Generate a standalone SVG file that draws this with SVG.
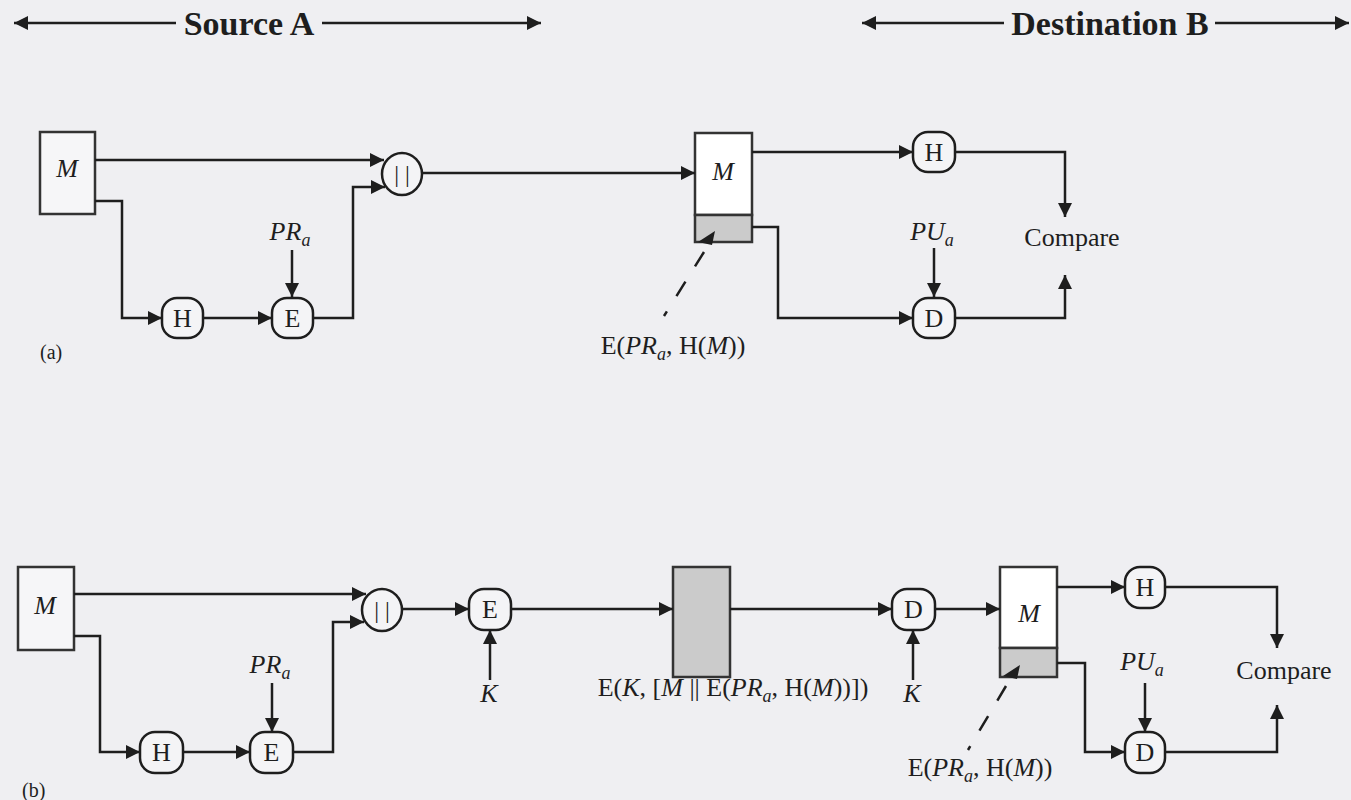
<svg xmlns="http://www.w3.org/2000/svg" width="1351" height="800" viewBox="0 0 1351 800">
<defs>
<marker id="ah" viewBox="0 0 10 10" refX="10" refY="5" markerWidth="20" markerHeight="14" markerUnits="userSpaceOnUse" orient="auto"><path d="M0,0 L10,5 L0,10 z" fill="#1e1e1e"/></marker>
<marker id="ahs" viewBox="0 0 10 10" refX="0" refY="5" markerWidth="20" markerHeight="14" markerUnits="userSpaceOnUse" orient="auto"><path d="M10,0 L0,5 L10,10 z" fill="#1e1e1e"/></marker>
<style>
.ar{fill:none;stroke:#1e1e1e;stroke-width:2.5;marker-end:url(#ah)}
.hd{fill:none;stroke:#1e1e1e;stroke-width:2.5;}
.dash{fill:none;stroke:#1e1e1e;stroke-width:2.5;stroke-dasharray:17 18}
.box{fill:#f6f6f8;stroke:#333;stroke-width:2.5}
.wbox{fill:#ffffff;stroke:#333;stroke-width:2.5}
.gbox{fill:#cbcbcb;stroke:#333;stroke-width:2.5}
.nd{fill:#f4f4f6;stroke:#1e1e1e;stroke-width:2.5}
.t{font-family:"Liberation Serif",serif;font-size:26px;fill:#1e1e1e}
.c{text-anchor:middle}
.i{font-style:italic}
.hdr{font-family:"Liberation Serif",serif;font-size:34px;font-weight:bold;fill:#1e1e1e;text-anchor:middle}
.sub{font-size:18px}
.bar{font-family:"Liberation Serif",serif;font-size:24px;fill:#1e1e1e;text-anchor:middle}
</style>
</defs>
<rect x="0" y="0" width="1351" height="800" fill="#efeff2"/>

<g id="header">
<path class="hd" d="M14,23 H176" marker-start="url(#ahs)"/>
<path class="hd" d="M322,23 H541" marker-end="url(#ah)"/>
<text class="hdr" x="249" y="35">Source A</text>
<path class="hd" d="M862,23 H1004" marker-start="url(#ahs)"/>
<path class="hd" d="M1215,23 H1349" marker-end="url(#ah)"/>
<text class="hdr" x="1110" y="35">Destination B</text>
</g>

<!-- (a) nodes -->
<g id="a-M">
<rect class="box" x="40" y="132" width="55" height="82"/>
<text class="t c i" x="67" y="177">M</text>
</g>
<g id="a-H">
<rect class="nd" x="162" y="298" width="41" height="40" rx="15"/>
<text class="t c" x="182.5" y="327">H</text>
</g>
<g id="a-E">
<rect class="nd" x="272" y="298" width="41" height="40" rx="15"/>
<text class="t c" x="292.5" y="327">E</text>
</g>
<g id="a-PR">
<text class="t c i" x="290" y="240">PR<tspan class="sub" dy="6">a</tspan></text>
</g>
<g id="a-concat">
<ellipse class="nd" cx="402" cy="174" rx="20" ry="21"/>
<text class="bar" x="402" y="182">| |</text>
</g>
<g id="a-label">
<text class="t" x="40" y="359" style="font-size:20px">(a)</text>
</g>
<g id="a-Mrecv">
<rect class="wbox" x="695" y="133" width="57" height="82"/>
<rect class="gbox" x="695" y="215" width="57" height="27"/>
<text class="t c i" x="723" y="180">M</text>
</g>
<g id="a-sig-label">
<text class="t c" x="673" y="354">E(<tspan class="i">PR</tspan><tspan class="sub i" dy="6">a</tspan><tspan dy="-6">, H(</tspan><tspan class="i">M</tspan>))</text>
</g>
<g id="a-H2">
<rect class="nd" x="913" y="132" width="42" height="40" rx="15"/>
<text class="t c" x="934" y="161">H</text>
</g>
<g id="a-PU">
<text class="t c i" x="932" y="240">PU<tspan class="sub" dy="6">a</tspan></text>
</g>
<g id="a-D">
<rect class="nd" x="913" y="298" width="42" height="40" rx="15"/>
<text class="t c" x="934" y="327">D</text>
</g>
<g id="a-compare">
<text class="t c" x="1072" y="246">Compare</text>
</g>

<!-- (b) nodes -->
<g id="b-M">
<rect class="box" x="18" y="567" width="56" height="83"/>
<text class="t c i" x="45" y="614">M</text>
</g>
<g id="b-H">
<rect class="nd" x="140" y="732" width="43" height="41" rx="15"/>
<text class="t c" x="161.5" y="761">H</text>
</g>
<g id="b-E">
<rect class="nd" x="250" y="732" width="43" height="41" rx="15"/>
<text class="t c" x="271.5" y="761">E</text>
</g>
<g id="b-PR">
<text class="t c i" x="270" y="673">PR<tspan class="sub" dy="6">a</tspan></text>
</g>
<g id="b-concat">
<ellipse class="nd" cx="382" cy="610" rx="20" ry="21"/>
<text class="bar" x="382" y="618">| |</text>
</g>
<g id="b-label">
<text class="t" x="22" y="797" style="font-size:20px">(b)</text>
</g>
<g id="b-E2">
<rect class="nd" x="469" y="589" width="42" height="41" rx="15"/>
<text class="t c" x="490" y="618">E</text>
</g>
<g id="b-K1">
<text class="t c i" x="489" y="702">K</text>
</g>
<g id="b-cipher">
<rect class="gbox" x="673" y="567" width="57" height="110"/>
</g>
<g id="b-cipher-label">
<text class="t c" x="733" y="696">E(<tspan class="i">K</tspan>, [<tspan class="i">M</tspan> || E(<tspan class="i">PR</tspan><tspan class="sub i" dy="6">a</tspan><tspan dy="-6">, H(</tspan><tspan class="i">M</tspan>))])</text>
</g>
<g id="b-D1">
<rect class="nd" x="892" y="589" width="43" height="41" rx="15"/>
<text class="t c" x="913.5" y="618">D</text>
</g>
<g id="b-K2">
<text class="t c i" x="912" y="702">K</text>
</g>
<g id="b-Mrecv">
<rect class="wbox" x="1000" y="567" width="57" height="81"/>
<rect class="gbox" x="1000" y="648" width="57" height="29"/>
<text class="t c i" x="1029" y="622">M</text>
</g>
<g id="b-sig-label">
<text class="t c" x="980" y="776">E(<tspan class="i">PR</tspan><tspan class="sub i" dy="6">a</tspan><tspan dy="-6">, H(</tspan><tspan class="i">M</tspan>))</text>
</g>
<g id="b-H2">
<rect class="nd" x="1125" y="567" width="40" height="41" rx="15"/>
<text class="t c" x="1145" y="596">H</text>
</g>
<g id="b-PU">
<text class="t c i" x="1142" y="670">PU<tspan class="sub" dy="6">a</tspan></text>
</g>
<g id="b-D2">
<rect class="nd" x="1125" y="732" width="40" height="41" rx="15"/>
<text class="t c" x="1145" y="761">D</text>
</g>
<g id="b-compare">
<text class="t c" x="1284" y="679">Compare</text>
</g>

<g id="connectors">
<!-- (a) -->
<path class="ar" d="M95,160 H384"/>
<path class="ar" d="M95,201 H122 V318 H162"/>
<path class="ar" d="M203,318 H272"/>
<path class="ar" d="M313,318 H353 V187 H385"/>
<path class="ar" d="M292,250 V297"/>
<path class="ar" d="M423,173 H695"/>
<path class="ar" d="M752,152 H913"/>
<path class="ar" d="M955,152 H1065 V217"/>
<path class="ar" d="M752,227 H778 V318 H913"/>
<path class="ar" d="M934,248 V297"/>
<path class="ar" d="M955,318 H1065 V275"/>
<path class="dash" d="M704,252 L664,316"/>
<polygon points="698,242 715,231 712,245" fill="#1e1e1e"/>
<!-- (b) -->
<path class="ar" d="M74,594 H366"/>
<path class="ar" d="M74,636 H100 V752 H140"/>
<path class="ar" d="M183,752 H250"/>
<path class="ar" d="M293,752 H333 V622 H364"/>
<path class="ar" d="M272,683 V732"/>
<path class="ar" d="M403,609 H469"/>
<path class="ar" d="M490,680 V630"/>
<path class="ar" d="M511,609 H673"/>
<path class="ar" d="M730,609 H892"/>
<path class="ar" d="M913,680 V630"/>
<path class="ar" d="M935,609 H1000"/>
<path class="ar" d="M1057,587 H1125"/>
<path class="ar" d="M1165,587 H1277 V648"/>
<path class="ar" d="M1057,663 H1085 V752 H1125"/>
<path class="ar" d="M1145,683 V732"/>
<path class="ar" d="M1165,752 H1277 V705"/>
<path class="dash" d="M1006,686 L968,750"/>
<polygon points="1003,676 1020,665 1017,679" fill="#1e1e1e"/>
</g>
</svg>
